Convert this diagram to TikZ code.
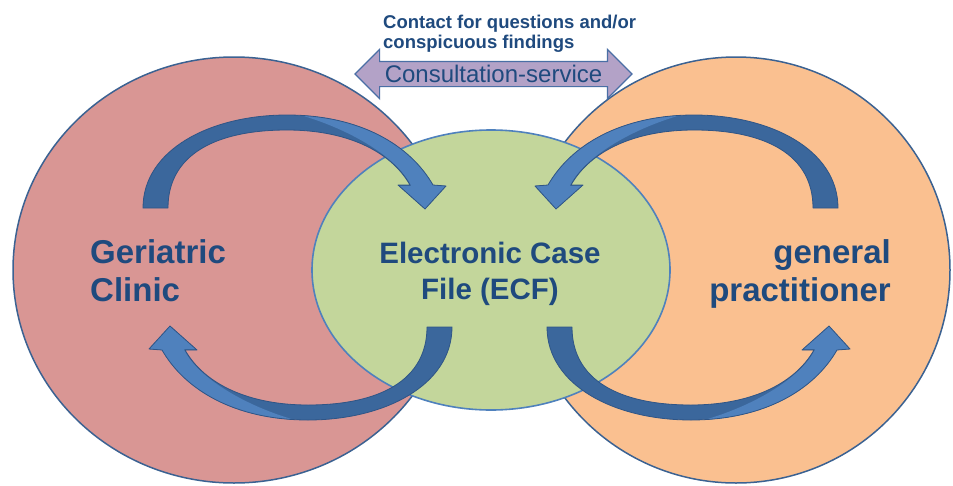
\documentclass[tikz,border=0pt]{standalone}
\usepackage{fontspec}
\setmainfont{Liberation Sans}
\usetikzlibrary{shapes.geometric,shapes.arrows}

\definecolor{clinicfill}{HTML}{D99694}
\definecolor{gpfill}{HTML}{FAC090}
\definecolor{ecffill}{HTML}{C3D69B}
\definecolor{ringline}{HTML}{3B6292}
\definecolor{ecfline}{HTML}{4F81BD}
\definecolor{arrowlight}{HTML}{4F81BD}
\definecolor{arrowdark}{HTML}{3B679C}
\definecolor{arrowedge}{HTML}{2F5586}
\definecolor{textblue}{HTML}{1F4A7E}
\definecolor{consfill}{HTML}{B3A2C7}
\definecolor{consedge}{HTML}{4A6FA5}

% outline of one bent block arrow: tail at the left, head pointing down on the right
\def\bentpath{(143,208) .. controls (143,150) and (210,115) .. (287,115)
  .. controls (360,115) and (410,145) .. (433,185) -- (446,186) -- (425,209)
  -- (398,185) -- (410,185) .. controls (390,150) and (345,130) .. (287,130)
  .. controls (215,130) and (168,155) .. (168,208) -- cycle}
% region holding the lit front face of the arrow
\def\bentlit{(250,90) -- (250,105) .. controls (330,114) and (398,155) .. (411,186)
  -- (390,186) -- (390,220) -- (470,220) -- (470,90) -- cycle}

\newcommand\DrawBentArrow{%
  \fill[arrowdark] \bentpath;
  \begin{scope}
    \clip \bentlit;
    \fill[arrowlight] \bentpath;
  \end{scope}
  \draw[arrowedge, line width=0.8pt, line join=round] \bentpath;
}

\tikzset{
  ring/.style={ellipse, draw=ringline, line width=1.5pt, inner sep=0pt},
  bigtext/.style={inner sep=0pt, text=textblue, font=\bfseries\fontsize{33}{38}\selectfont},
}

\begin{document}
\begin{tikzpicture}[x=1pt, y=-1pt]
\useasboundingbox (0,0) rectangle (953,485);
\fill[white] (0,0) rectangle (953,485);
\clip (0,0) rectangle (953,485);

% the two partners and the shared case file
\node[ring, fill=clinicfill, minimum width=442pt, minimum height=426pt] (clinic) at (234,270) {};
\node[ring, fill=gpfill, minimum width=428pt, minimum height=426pt] (gp) at (736,270) {};
\node[ellipse, draw=ecfline, line width=1.6pt, fill=ecffill, inner sep=0pt,
      minimum width=358pt, minimum height=280pt] (ecf) at (491,270) {};

% data flow arrows
\begin{scope}
  \DrawBentArrow
\end{scope}
\begin{scope}[shift={(981,0)}, xscale=-1]
  \DrawBentArrow
\end{scope}
\begin{scope}[rotate around={180:(297.5,267.5)}]
  \DrawBentArrow
\end{scope}
\begin{scope}[rotate around={180:(692.5,267.5)}, shift={(981,0)}, xscale=-1]
  \DrawBentArrow
\end{scope}

% labels
\node[bigtext, anchor=base west] (cliniclabel) at (90,263)
  {\begin{tabular}[t]{@{}l@{}}Geriatric\\Clinic\end{tabular}};
\node[bigtext, anchor=base east] (gplabel) at (891,263)
  {\begin{tabular}[t]{@{}r@{}}general\\practitioner\end{tabular}};
\node[bigtext, font=\bfseries\fontsize{29.5}{36}\selectfont, anchor=base] (ecflabel) at (490,263)
  {\begin{tabular}[t]{@{}c@{}}Electronic Case\\File (ECF)\end{tabular}};

% consultation service between the partners
\node[double arrow, draw=consedge, fill=consfill, line width=1.2pt,
      minimum height=277pt, double arrow head extend=12pt,
      inner xsep=0pt, inner ysep=0pt, text height=20pt, text depth=4pt,
      text=textblue, font=\fontsize{24}{24}\selectfont] (consult) at (493.5,74)
  {Consultation-service};
\node[inner sep=0pt, anchor=base west, text=textblue,
      font=\bfseries\fontsize{18.5}{20}\selectfont] (contact) at (383,28)
  {\begin{tabular}[t]{@{}l@{}}Contact for questions and/or\\conspicuous findings\end{tabular}};
\end{tikzpicture}
\end{document}
